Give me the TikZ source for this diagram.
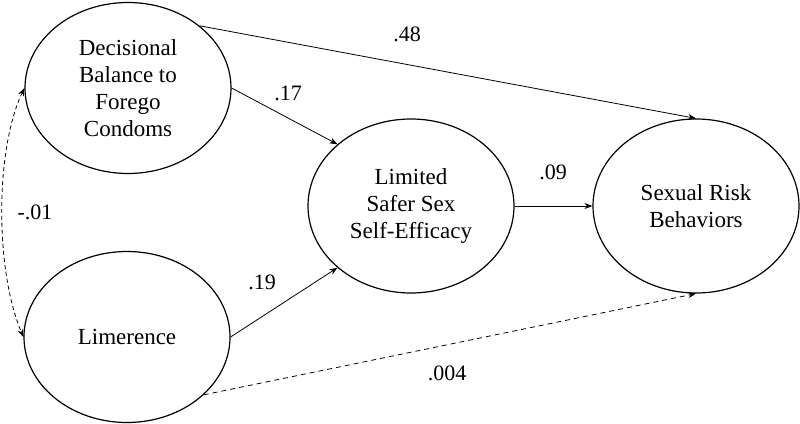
\documentclass[tikz,border=0pt]{standalone}
\usepackage{fontspec}
\setmainfont{Liberation Serif}
\usetikzlibrary{shapes.geometric,arrows.meta}
\begin{document}
\begin{tikzpicture}[x=1pt,y=-1pt,
  latent/.style={draw,ellipse,line width=1.2pt,minimum width=206pt,minimum height=171pt,inner sep=0pt,align=center,font=\fontsize{23}{27}\selectfont},
  path/.style={line width=0.8pt,-{Stealth[length=8pt,width=6pt]}},
  dpath/.style={path,dash pattern=on 5pt off 4pt},
  coef/.style={font=\fontsize{22}{26}\selectfont,inner sep=0pt}]
\useasboundingbox (0,0) rectangle (800,423);
\node[latent] (A) at (128,88) {Decisional\\Balance to\\Forego\\Condoms};
\node[latent] (L) at (127,337) {Limerence};
\node[latent,minimum height=174pt] (M) at (411,206) {Limited\\Safer Sex\\Self-Efficacy};
\node[latent,minimum height=174pt] (S) at (696,206) {Sexual Risk\\Behaviors};
\draw[path] (A.41) -- (S.north);
\draw[path] (A.east) -- (M.140);
\draw[path] (L.east) -- (M.220);
\draw[path] (M.east) -- (S.west);
\draw[dpath] (L.-37) -- (S.south);
\draw[line width=0.8pt,dash pattern=on 4pt off 3pt,{Stealth[length=8pt,width=6pt]}-{Stealth[length=8pt,width=6pt]}] (A.west) .. controls (-5,150) and (-5,270) .. (L.west);
\node[coef] (c48) at (407,34) {.48};
\node[coef] (c17) at (288,93) {.17};
\node[coef] (c19) at (262,282) {.19};
\node[coef] (c09) at (553,172) {.09};
\node[coef] (c004) at (447,373) {.004};
\node[coef] (c01) at (35,212) {-.01};
\end{tikzpicture}
\end{document}
